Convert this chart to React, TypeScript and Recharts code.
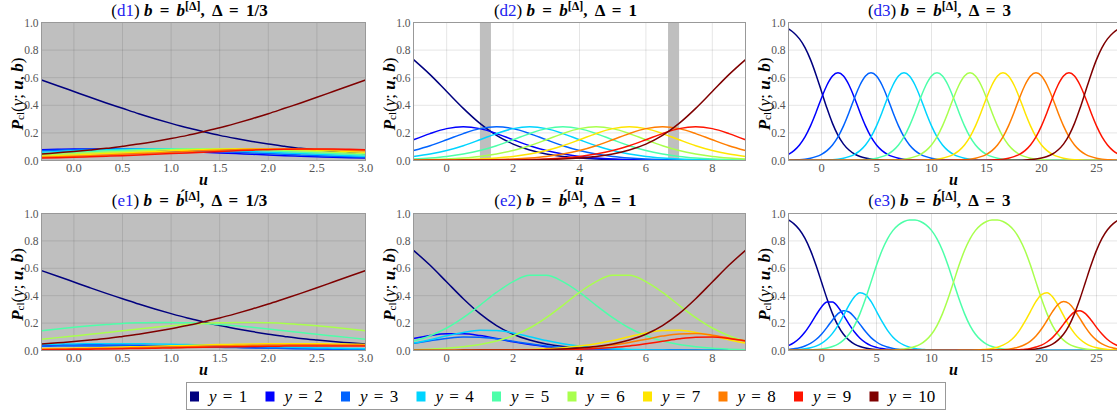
import React from 'react';
import { LineChart, Line, XAxis, YAxis, CartesianGrid, ReferenceArea } from 'recharts';

// ---------- x grids ----------
const U_THIRD = [-0.3333, -0.1667, 0, 0.1667, 0.3333, 0.5, 0.6667, 0.8333, 1, 1.1667, 1.3333, 1.5, 1.6667, 1.8333, 2, 2.1667, 2.3333, 2.5, 2.6667, 2.8333, 3];
const U_ONE = [-1, -0.5, 0, 0.5, 1, 1.5, 2, 2.5, 3, 3.5, 4, 4.5, 5, 5.5, 6, 6.5, 7, 7.5, 8, 8.5, 9];
const U_THREE = [-3, -2.5, -2, -1.5, -1, -0.5, 0, 0.5, 1, 1.5, 2, 2.5, 3, 3.5, 4, 4.5, 5, 5.5, 6, 6.5, 7, 7.5, 8, 8.5, 9, 9.5, 10, 10.5, 11, 11.5, 12, 12.5, 13, 13.5, 14, 14.5, 15, 15.5, 16, 16.5, 17, 17.5, 18, 18.5, 19, 19.5, 20, 20.5, 21, 21.5, 22, 22.5, 23, 23.5, 24, 24.5, 25, 25.5, 26, 26.5, 27];

// ---------- tick labels ----------
const Y_TICKS = [0, 0.2, 0.4, 0.6, 0.8, 1];
const X_TICKS_THIRD = [0, 0.5, 1, 1.5, 2, 2.5, 3];
const X_TICKS_ONE = [0, 2, 4, 6, 8];
const X_TICKS_THREE = [0, 5, 10, 15, 20, 25];

// ---------- categories ----------
const CATEGORIES = ['1', '2', '3', '4', '5', '6', '7', '8', '9', '10'];
const JET = ['#00007f', '#0000ff', '#0063ff', '#00d4ff', '#4dffa9', '#a9ff4d', '#ffe500', '#ff7d00', '#ff1400', '#7f0000'];

// grey shaded u-intervals in (d2)
const D2_BANDS = [[1, 1.333], [6.667, 7]];

// ---------- (d1) ----------
const d1y1 = [0.583, 0.542, 0.500, 0.458, 0.417, 0.378, 0.339, 0.303, 0.269, 0.237, 0.209, 0.182, 0.159, 0.138, 0.119, 0.103, 0.088, 0.076, 0.065, 0.056, 0.047];
const d1y2 = [0.078, 0.081, 0.083, 0.083, 0.083, 0.081, 0.078, 0.075, 0.070, 0.065, 0.060, 0.055, 0.050, 0.045, 0.040, 0.035, 0.031, 0.027, 0.023, 0.020, 0.018];
const d1y3 = [0.070, 0.075, 0.078, 0.081, 0.083, 0.083, 0.083, 0.081, 0.078, 0.075, 0.070, 0.065, 0.060, 0.055, 0.050, 0.045, 0.040, 0.035, 0.031, 0.027, 0.023];
const d1y4 = [0.060, 0.065, 0.070, 0.075, 0.078, 0.081, 0.083, 0.083, 0.083, 0.081, 0.078, 0.075, 0.070, 0.065, 0.060, 0.055, 0.050, 0.045, 0.040, 0.035, 0.031];
const d1y5 = [0.050, 0.055, 0.060, 0.065, 0.070, 0.075, 0.078, 0.081, 0.083, 0.083, 0.083, 0.081, 0.078, 0.075, 0.070, 0.065, 0.060, 0.055, 0.050, 0.045, 0.040];
const d1y6 = [0.040, 0.045, 0.050, 0.055, 0.060, 0.065, 0.070, 0.075, 0.078, 0.081, 0.083, 0.083, 0.083, 0.081, 0.078, 0.075, 0.070, 0.065, 0.060, 0.055, 0.050];
const d1y7 = [0.031, 0.035, 0.040, 0.045, 0.050, 0.055, 0.060, 0.065, 0.070, 0.075, 0.078, 0.081, 0.083, 0.083, 0.083, 0.081, 0.078, 0.075, 0.070, 0.065, 0.060];
const d1y8 = [0.023, 0.027, 0.031, 0.035, 0.040, 0.045, 0.050, 0.055, 0.060, 0.065, 0.070, 0.075, 0.078, 0.081, 0.083, 0.083, 0.083, 0.081, 0.078, 0.075, 0.070];
const d1y9 = [0.018, 0.020, 0.023, 0.027, 0.031, 0.035, 0.040, 0.045, 0.050, 0.055, 0.060, 0.065, 0.070, 0.075, 0.078, 0.081, 0.083, 0.083, 0.083, 0.081, 0.078];
const d1y10 = [0.047, 0.056, 0.065, 0.076, 0.088, 0.103, 0.119, 0.138, 0.159, 0.182, 0.209, 0.237, 0.269, 0.303, 0.339, 0.378, 0.417, 0.458, 0.500, 0.542, 0.583];

// ---------- (d2) ----------
const d2y1 = [0.731, 0.622, 0.500, 0.378, 0.269, 0.182, 0.119, 0.076, 0.047, 0.029, 0.018, 0.011, 0.007, 0.004, 0.002, 0.001, 0.001, 0.001, 0, 0, 0];
const d2y2 = [0.150, 0.195, 0.231, 0.245, 0.231, 0.195, 0.150, 0.107, 0.072, 0.047, 0.029, 0.018, 0.011, 0.007, 0.004, 0.003, 0.002, 0.001, 0.001, 0.001, 0];
const d2y3 = [0.072, 0.107, 0.150, 0.195, 0.231, 0.245, 0.231, 0.195, 0.150, 0.107, 0.072, 0.047, 0.029, 0.018, 0.011, 0.007, 0.004, 0.003, 0.002, 0.001, 0.001];
const d2y4 = [0.029, 0.047, 0.072, 0.107, 0.150, 0.195, 0.231, 0.245, 0.231, 0.195, 0.150, 0.107, 0.072, 0.047, 0.029, 0.018, 0.011, 0.007, 0.004, 0.003, 0.002];
const d2y5 = [0.011, 0.018, 0.029, 0.047, 0.072, 0.107, 0.150, 0.195, 0.231, 0.245, 0.231, 0.195, 0.150, 0.107, 0.072, 0.047, 0.029, 0.018, 0.011, 0.007, 0.004];
const d2y6 = [0.004, 0.007, 0.011, 0.018, 0.029, 0.047, 0.072, 0.107, 0.150, 0.195, 0.231, 0.245, 0.231, 0.195, 0.150, 0.107, 0.072, 0.047, 0.029, 0.018, 0.011];
const d2y7 = [0.002, 0.003, 0.004, 0.007, 0.011, 0.018, 0.029, 0.047, 0.072, 0.107, 0.150, 0.195, 0.231, 0.245, 0.231, 0.195, 0.150, 0.107, 0.072, 0.047, 0.029];
const d2y8 = [0.001, 0.001, 0.002, 0.003, 0.004, 0.007, 0.011, 0.018, 0.029, 0.047, 0.072, 0.107, 0.150, 0.195, 0.231, 0.245, 0.231, 0.195, 0.150, 0.107, 0.072];
const d2y9 = [0, 0.001, 0.001, 0.001, 0.002, 0.003, 0.004, 0.007, 0.011, 0.018, 0.029, 0.047, 0.072, 0.107, 0.150, 0.195, 0.231, 0.245, 0.231, 0.195, 0.150];
const d2y10 = [0, 0, 0, 0.001, 0.001, 0.001, 0.002, 0.004, 0.007, 0.011, 0.018, 0.029, 0.047, 0.076, 0.119, 0.182, 0.269, 0.378, 0.500, 0.622, 0.731];

// ---------- (d3) ----------
const d3y1 = [
  0.953, 0.924, 0.881, 0.818, 0.731, 0.622, 0.500, 0.378, 0.269, 0.182,
  0.119, 0.076, 0.047, 0.029, 0.018, 0.011, 0.007, 0.004, 0.002, 0.001,
  0.001, 0.001, 0, 0, 0, 0, 0, 0, 0, 0,
  0, 0, 0, 0, 0, 0, 0, 0, 0, 0,
  0, 0, 0, 0, 0, 0, 0, 0, 0, 0,
  0, 0, 0, 0, 0, 0, 0, 0, 0, 0,
  0];
const d3y2 = [
  0.045, 0.072, 0.113, 0.171, 0.251, 0.348, 0.453, 0.547, 0.612, 0.635,
  0.612, 0.547, 0.453, 0.348, 0.251, 0.171, 0.113, 0.072, 0.045, 0.028,
  0.017, 0.010, 0.006, 0.004, 0.002, 0.001, 0.001, 0, 0, 0,
  0, 0, 0, 0, 0, 0, 0, 0, 0, 0,
  0, 0, 0, 0, 0, 0, 0, 0, 0, 0,
  0, 0, 0, 0, 0, 0, 0, 0, 0, 0,
  0];
const d3y3 = [
  0.002, 0.004, 0.006, 0.010, 0.017, 0.028, 0.045, 0.072, 0.113, 0.171,
  0.251, 0.348, 0.453, 0.547, 0.612, 0.635, 0.612, 0.547, 0.453, 0.348,
  0.251, 0.171, 0.113, 0.072, 0.045, 0.028, 0.017, 0.010, 0.006, 0.004,
  0.002, 0.001, 0.001, 0, 0, 0, 0, 0, 0, 0,
  0, 0, 0, 0, 0, 0, 0, 0, 0, 0,
  0, 0, 0, 0, 0, 0, 0, 0, 0, 0,
  0];
const d3y4 = [
  0, 0, 0, 0, 0.001, 0.001, 0.002, 0.004, 0.006, 0.010,
  0.017, 0.028, 0.045, 0.072, 0.113, 0.171, 0.251, 0.348, 0.453, 0.547,
  0.612, 0.635, 0.612, 0.547, 0.453, 0.348, 0.251, 0.171, 0.113, 0.072,
  0.045, 0.028, 0.017, 0.010, 0.006, 0.004, 0.002, 0.001, 0.001, 0,
  0, 0, 0, 0, 0, 0, 0, 0, 0, 0,
  0, 0, 0, 0, 0, 0, 0, 0, 0, 0,
  0];
const d3y5 = [
  0, 0, 0, 0, 0, 0, 0, 0, 0, 0,
  0.001, 0.001, 0.002, 0.004, 0.006, 0.010, 0.017, 0.028, 0.045, 0.072,
  0.113, 0.171, 0.251, 0.348, 0.453, 0.547, 0.612, 0.635, 0.612, 0.547,
  0.453, 0.348, 0.251, 0.171, 0.113, 0.072, 0.045, 0.028, 0.017, 0.010,
  0.006, 0.004, 0.002, 0.001, 0.001, 0, 0, 0, 0, 0,
  0, 0, 0, 0, 0, 0, 0, 0, 0, 0,
  0];
const d3y6 = [
  0, 0, 0, 0, 0, 0, 0, 0, 0, 0,
  0, 0, 0, 0, 0, 0, 0.001, 0.001, 0.002, 0.004,
  0.006, 0.010, 0.017, 0.028, 0.045, 0.072, 0.113, 0.171, 0.251, 0.348,
  0.453, 0.547, 0.612, 0.635, 0.612, 0.547, 0.453, 0.348, 0.251, 0.171,
  0.113, 0.072, 0.045, 0.028, 0.017, 0.010, 0.006, 0.004, 0.002, 0.001,
  0.001, 0, 0, 0, 0, 0, 0, 0, 0, 0,
  0];
const d3y7 = [
  0, 0, 0, 0, 0, 0, 0, 0, 0, 0,
  0, 0, 0, 0, 0, 0, 0, 0, 0, 0,
  0, 0, 0.001, 0.001, 0.002, 0.004, 0.006, 0.010, 0.017, 0.028,
  0.045, 0.072, 0.113, 0.171, 0.251, 0.348, 0.453, 0.547, 0.612, 0.635,
  0.612, 0.547, 0.453, 0.348, 0.251, 0.171, 0.113, 0.072, 0.045, 0.028,
  0.017, 0.010, 0.006, 0.004, 0.002, 0.001, 0.001, 0, 0, 0,
  0];
const d3y8 = [
  0, 0, 0, 0, 0, 0, 0, 0, 0, 0,
  0, 0, 0, 0, 0, 0, 0, 0, 0, 0,
  0, 0, 0, 0, 0, 0, 0, 0, 0.001, 0.001,
  0.002, 0.004, 0.006, 0.010, 0.017, 0.028, 0.045, 0.072, 0.113, 0.171,
  0.251, 0.348, 0.453, 0.547, 0.612, 0.635, 0.612, 0.547, 0.453, 0.348,
  0.251, 0.171, 0.113, 0.072, 0.045, 0.028, 0.017, 0.010, 0.006, 0.004,
  0.002];
const d3y9 = [
  0, 0, 0, 0, 0, 0, 0, 0, 0, 0,
  0, 0, 0, 0, 0, 0, 0, 0, 0, 0,
  0, 0, 0, 0, 0, 0, 0, 0, 0, 0,
  0, 0, 0, 0, 0.001, 0.001, 0.002, 0.004, 0.006, 0.010,
  0.017, 0.028, 0.045, 0.072, 0.113, 0.171, 0.251, 0.348, 0.453, 0.547,
  0.612, 0.635, 0.612, 0.547, 0.453, 0.348, 0.251, 0.171, 0.113, 0.072,
  0.045];
const d3y10 = [
  0, 0, 0, 0, 0, 0, 0, 0, 0, 0,
  0, 0, 0, 0, 0, 0, 0, 0, 0, 0,
  0, 0, 0, 0, 0, 0, 0, 0, 0, 0,
  0, 0, 0, 0, 0, 0, 0, 0, 0, 0.001,
  0.001, 0.001, 0.002, 0.004, 0.007, 0.011, 0.018, 0.029, 0.047, 0.076,
  0.119, 0.182, 0.269, 0.378, 0.500, 0.622, 0.731, 0.818, 0.881, 0.924,
  0.953];

// ---------- (e1) ----------
const e1y1 = [0.583, 0.542, 0.500, 0.458, 0.417, 0.378, 0.339, 0.303, 0.269, 0.237, 0.209, 0.182, 0.159, 0.138, 0.119, 0.103, 0.088, 0.076, 0.065, 0.056, 0.047];
const e1y2 = [0.040, 0.041, 0.042, 0.042, 0.041, 0.040, 0.038, 0.036, 0.034, 0.031, 0.029, 0.026, 0.024, 0.021, 0.019, 0.016, 0.014, 0.013, 0.011, 0.009, 0.008];
const e1y3 = [0.031, 0.032, 0.033, 0.033, 0.033, 0.033, 0.032, 0.031, 0.029, 0.027, 0.025, 0.023, 0.021, 0.019, 0.017, 0.015, 0.013, 0.011, 0.010, 0.009, 0.007];
const e1y4 = [0.044, 0.046, 0.048, 0.049, 0.050, 0.050, 0.049, 0.048, 0.046, 0.043, 0.041, 0.037, 0.034, 0.031, 0.028, 0.025, 0.022, 0.019, 0.017, 0.015, 0.013];
const e1y5 = [0.144, 0.157, 0.169, 0.180, 0.189, 0.197, 0.202, 0.205, 0.205, 0.202, 0.197, 0.189, 0.180, 0.169, 0.157, 0.144, 0.131, 0.118, 0.106, 0.094, 0.083];
const e1y6 = [0.083, 0.094, 0.106, 0.118, 0.131, 0.144, 0.157, 0.169, 0.180, 0.189, 0.197, 0.202, 0.205, 0.205, 0.202, 0.197, 0.189, 0.180, 0.169, 0.157, 0.144];
const e1y7 = [0.013, 0.015, 0.017, 0.019, 0.022, 0.025, 0.028, 0.031, 0.034, 0.037, 0.041, 0.043, 0.046, 0.048, 0.049, 0.050, 0.050, 0.049, 0.048, 0.046, 0.044];
const e1y8 = [0.009, 0.011, 0.012, 0.014, 0.016, 0.018, 0.021, 0.023, 0.026, 0.028, 0.031, 0.034, 0.036, 0.038, 0.040, 0.041, 0.042, 0.042, 0.041, 0.040, 0.039];
const e1y9 = [0.006, 0.007, 0.009, 0.010, 0.011, 0.013, 0.015, 0.017, 0.019, 0.021, 0.023, 0.025, 0.027, 0.029, 0.031, 0.032, 0.033, 0.033, 0.033, 0.033, 0.032];
const e1y10 = [0.047, 0.056, 0.065, 0.076, 0.088, 0.103, 0.119, 0.138, 0.159, 0.182, 0.209, 0.237, 0.269, 0.303, 0.339, 0.378, 0.417, 0.458, 0.500, 0.542, 0.583];

// ---------- (e2) ----------
const e2y1 = [0.731, 0.622, 0.500, 0.378, 0.269, 0.182, 0.119, 0.076, 0.047, 0.029, 0.018, 0.011, 0.007, 0.004, 0.002, 0.001, 0.001, 0.001, 0, 0, 0];
const e2y2 = [0.087, 0.109, 0.122, 0.122, 0.109, 0.087, 0.063, 0.043, 0.028, 0.018, 0.011, 0.007, 0.004, 0.003, 0.002, 0.001, 0.001, 0, 0, 0, 0];
const e2y3 = [0.052, 0.071, 0.088, 0.099, 0.097, 0.085, 0.067, 0.049, 0.033, 0.022, 0.014, 0.009, 0.005, 0.003, 0.002, 0.001, 0.001, 0, 0, 0, 0];
const e2y4 = [0.054, 0.079, 0.107, 0.132, 0.147, 0.146, 0.128, 0.101, 0.073, 0.050, 0.033, 0.021, 0.013, 0.008, 0.005, 0.003, 0.002, 0.001, 0.001, 0, 0];
const e2y5 = [0.069, 0.108, 0.164, 0.240, 0.330, 0.424, 0.503, 0.549, 0.549, 0.503, 0.424, 0.330, 0.240, 0.164, 0.108, 0.069, 0.043, 0.027, 0.016, 0.010, 0.006];
const e2y6 = [0.006, 0.010, 0.016, 0.027, 0.043, 0.069, 0.108, 0.164, 0.240, 0.330, 0.424, 0.503, 0.549, 0.549, 0.503, 0.424, 0.330, 0.240, 0.164, 0.108, 0.069];
const e2y7 = [0, 0, 0.001, 0.001, 0.002, 0.003, 0.005, 0.008, 0.013, 0.021, 0.033, 0.050, 0.073, 0.101, 0.128, 0.146, 0.147, 0.132, 0.107, 0.079, 0.054];
const e2y8 = [0, 0, 0, 0.001, 0.001, 0.001, 0.002, 0.004, 0.006, 0.010, 0.017, 0.026, 0.040, 0.059, 0.082, 0.105, 0.121, 0.124, 0.112, 0.091, 0.068];
const e2y9 = [0, 0, 0, 0, 0.001, 0.001, 0.001, 0.002, 0.003, 0.005, 0.009, 0.014, 0.022, 0.033, 0.049, 0.067, 0.085, 0.097, 0.099, 0.088, 0.071];
const e2y10 = [0, 0, 0, 0.001, 0.001, 0.001, 0.002, 0.004, 0.007, 0.011, 0.018, 0.029, 0.047, 0.076, 0.119, 0.182, 0.269, 0.378, 0.500, 0.622, 0.731];

// ---------- (e3) ----------
const e3y1 = [
  0.953, 0.924, 0.881, 0.818, 0.731, 0.622, 0.500, 0.378, 0.269, 0.182,
  0.119, 0.076, 0.047, 0.029, 0.018, 0.011, 0.007, 0.004, 0.002, 0.001,
  0.001, 0.001, 0, 0, 0, 0, 0, 0, 0, 0,
  0, 0, 0, 0, 0, 0, 0, 0, 0, 0,
  0, 0, 0, 0, 0, 0, 0, 0, 0, 0,
  0, 0, 0, 0, 0, 0, 0, 0, 0, 0,
  0];
const e3y2 = [
  0.036, 0.058, 0.090, 0.135, 0.193, 0.258, 0.318, 0.354, 0.354, 0.318,
  0.258, 0.193, 0.135, 0.090, 0.058, 0.036, 0.023, 0.014, 0.009, 0.005,
  0.003, 0.002, 0.001, 0.001, 0, 0, 0, 0, 0, 0,
  0, 0, 0, 0, 0, 0, 0, 0, 0, 0,
  0, 0, 0, 0, 0, 0, 0, 0, 0, 0,
  0, 0, 0, 0, 0, 0, 0, 0, 0, 0,
  0];
const e3y3 = [
  0.008, 0.013, 0.020, 0.033, 0.052, 0.080, 0.119, 0.169, 0.223, 0.269,
  0.291, 0.281, 0.243, 0.191, 0.138, 0.094, 0.062, 0.039, 0.025, 0.015,
  0.009, 0.006, 0.003, 0.002, 0.001, 0.001, 0, 0, 0, 0,
  0, 0, 0, 0, 0, 0, 0, 0, 0, 0,
  0, 0, 0, 0, 0, 0, 0, 0, 0, 0,
  0, 0, 0, 0, 0, 0, 0, 0, 0, 0,
  0];
const e3y4 = [
  0.003, 0.005, 0.008, 0.012, 0.020, 0.032, 0.052, 0.082, 0.125, 0.184,
  0.256, 0.331, 0.392, 0.421, 0.408, 0.358, 0.286, 0.212, 0.147, 0.097,
  0.062, 0.039, 0.024, 0.015, 0.009, 0.006, 0.003, 0.002, 0.001, 0.001,
  0, 0, 0, 0, 0, 0, 0, 0, 0, 0,
  0, 0, 0, 0, 0, 0, 0, 0, 0, 0,
  0, 0, 0, 0, 0, 0, 0, 0, 0, 0,
  0];
const e3y5 = [
  0.001, 0.001, 0.001, 0.002, 0.004, 0.007, 0.011, 0.018, 0.029, 0.047,
  0.076, 0.119, 0.182, 0.269, 0.377, 0.499, 0.622, 0.730, 0.815, 0.877,
  0.917, 0.942, 0.953, 0.953, 0.942, 0.917, 0.877, 0.815, 0.730, 0.622,
  0.499, 0.377, 0.269, 0.182, 0.119, 0.076, 0.047, 0.029, 0.018, 0.011,
  0.007, 0.004, 0.002, 0.001, 0.001, 0.001, 0, 0, 0, 0,
  0, 0, 0, 0, 0, 0, 0, 0, 0, 0,
  0];
const e3y6 = [
  0, 0, 0, 0, 0, 0, 0, 0, 0, 0,
  0, 0, 0, 0, 0, 0.001, 0.001, 0.001, 0.002, 0.004,
  0.007, 0.011, 0.018, 0.029, 0.047, 0.076, 0.119, 0.182, 0.269, 0.377,
  0.499, 0.622, 0.730, 0.815, 0.877, 0.917, 0.942, 0.953, 0.953, 0.942,
  0.917, 0.877, 0.815, 0.730, 0.622, 0.499, 0.377, 0.269, 0.182, 0.119,
  0.076, 0.047, 0.029, 0.018, 0.011, 0.007, 0.004, 0.002, 0.001, 0.001,
  0.001];
const e3y7 = [
  0, 0, 0, 0, 0, 0, 0, 0, 0, 0,
  0, 0, 0, 0, 0, 0, 0, 0, 0, 0,
  0, 0, 0, 0, 0, 0, 0, 0, 0, 0,
  0, 0.001, 0.001, 0.002, 0.003, 0.006, 0.009, 0.015, 0.024, 0.039,
  0.062, 0.097, 0.147, 0.212, 0.286, 0.358, 0.408, 0.421, 0.392, 0.331,
  0.256, 0.184, 0.125, 0.082, 0.052, 0.032, 0.020, 0.012, 0.008, 0.005,
  0.003];
const e3y8 = [
  0, 0, 0, 0, 0, 0, 0, 0, 0, 0,
  0, 0, 0, 0, 0, 0, 0, 0, 0, 0,
  0, 0, 0, 0, 0, 0, 0, 0, 0, 0,
  0, 0, 0, 0, 0, 0.001, 0.001, 0.002, 0.004, 0.006,
  0.010, 0.017, 0.027, 0.044, 0.069, 0.106, 0.157, 0.219, 0.284, 0.336,
  0.358, 0.343, 0.296, 0.232, 0.169, 0.115, 0.076, 0.048, 0.030, 0.019,
  0.011];
const e3y9 = [
  0, 0, 0, 0, 0, 0, 0, 0, 0, 0,
  0, 0, 0, 0, 0, 0, 0, 0, 0, 0,
  0, 0, 0, 0, 0, 0, 0, 0, 0, 0,
  0, 0, 0, 0, 0, 0, 0, 0, 0.001, 0.001,
  0.002, 0.003, 0.006, 0.009, 0.015, 0.025, 0.039, 0.062, 0.094, 0.138,
  0.191, 0.243, 0.281, 0.291, 0.269, 0.223, 0.169, 0.120, 0.080, 0.052,
  0.033];
const e3y10 = [
  0, 0, 0, 0, 0, 0, 0, 0, 0, 0,
  0, 0, 0, 0, 0, 0, 0, 0, 0, 0,
  0, 0, 0, 0, 0, 0, 0, 0, 0, 0,
  0, 0, 0, 0, 0, 0, 0, 0, 0, 0.001,
  0.001, 0.001, 0.002, 0.004, 0.007, 0.011, 0.018, 0.029, 0.047, 0.076,
  0.119, 0.182, 0.269, 0.378, 0.500, 0.622, 0.731, 0.818, 0.881, 0.924,
  0.953];

const FONT = '"Liberation Serif", "Times New Roman", serif';

type PanelProps = {
  L: number; T: number; w: number; h: number;
  u: number[]; series: number[][];
  xDomain: [number, number]; xTicks: number[]; xFmt: (v: number) => string;
  grey: boolean; bands?: number[][];
};

function Panel({ L, T, w, h, u, series, xDomain, xTicks, xFmt, grey, bands = [] }: PanelProps) {
  const data = u.map((uu, i) => {
    const row: Record<string, number> = { u: uu };
    series.forEach((s, k) => { row['y' + CATEGORIES[k]] = s[i]; });
    return row;
  });
  return (
    <div style={{ position: 'absolute', left: L - 45, top: T - 25 }}>
      <LineChart width={w + 55.5} height={h + 55.5} data={data}
        margin={{ top: 25.5, right: 10, bottom: 0, left: 0.5 }}>
        <CartesianGrid stroke="#000" strokeOpacity={0.1} fill={grey ? '#bfbfbf' : '#ffffff'} fillOpacity={1} />
        {bands.map((b, i) => (
          <ReferenceArea key={i} x1={b[0]} x2={b[1]} y1={0} y2={1} fill="#bfbfbf" fillOpacity={1} stroke="none" />
        ))}
        <XAxis type="number" dataKey="u" domain={xDomain} ticks={xTicks} tickFormatter={xFmt}
          allowDataOverflow axisLine={false} tickLine={false} tickSize={0} tickMargin={3} height={30} interval={0}
          tick={{ fill: '#555', fontSize: 12.5, fontFamily: FONT }} />
        <YAxis type="number" domain={[0, 1]} ticks={Y_TICKS} tickFormatter={(v: number) => v.toFixed(1)}
          allowDataOverflow axisLine={false} tickLine={false} tickSize={0} tickMargin={3} width={45} interval={0}
          tick={{ fill: '#555', fontSize: 11.5, fontFamily: FONT }} />
        {series.map((_, k) => (
          <Line key={k} type="monotone" dataKey={'y' + CATEGORIES[k]} stroke={JET[k]} strokeWidth={1.5}
            dot={false} activeDot={false} isAnimationActive={false} />
        ))}
      </LineChart>
    </div>
  );
}

function Title({ cx, y, tag, accent, delta }: { cx: number; y: number; tag: string; accent: boolean; delta: string }) {
  const b = accent ? 'b\u0301' : 'b';
  return (
    <text x={cx} y={y} textAnchor="middle" fontSize={17} fontFamily={FONT} fill="#000">
      <tspan>(</tspan>
      <tspan fill="#2222ee">{tag}</tspan>
      <tspan>{') '}</tspan>
      <tspan fontWeight="bold" fontStyle="italic">b</tspan>
      <tspan fontWeight="bold" wordSpacing={3}>{' = '}</tspan>
      <tspan fontWeight="bold" fontStyle="italic">{b}</tspan>
      <tspan fontWeight="bold" fontSize={12} dy={-5.5}>[Δ]</tspan>
      <tspan fontWeight="bold" dy={5.5} wordSpacing={3}>{', Δ = ' + delta}</tspan>
    </text>
  );
}

function YLabel({ cx, cy }: { cx: number; cy: number }) {
  return (
    <text transform={`translate(${cx},${cy}) rotate(-90)`} textAnchor="middle" dominantBaseline="central"
      fontSize={17} fontFamily={FONT} fill="#000">
      <tspan fontWeight="bold" fontStyle="italic">P</tspan>
      <tspan fontSize={11} dy={3}>cl</tspan>
      <tspan dy={-3}>(</tspan>
      <tspan fontStyle="italic">y</tspan>
      <tspan>{'; '}</tspan>
      <tspan fontWeight="bold" fontStyle="italic">u</tspan>
      <tspan>{', '}</tspan>
      <tspan fontWeight="bold" fontStyle="italic">b</tspan>
      <tspan>)</tspan>
    </text>
  );
}

const PANELS = [
  { L: 41, T: 22, w: 324, h: 138, u: U_THIRD, series: [d1y1, d1y2, d1y3, d1y4, d1y5, d1y6, d1y7, d1y8, d1y9, d1y10], xDomain: [-0.3333, 3] as [number, number], xTicks: X_TICKS_THIRD, xFmt: (v: number) => v.toFixed(1), grey: true, bands: [] as number[][], tag: 'd1', accent: false, delta: '1/3' },
  { L: 413, T: 22, w: 332, h: 138, u: U_ONE, series: [d2y1, d2y2, d2y3, d2y4, d2y5, d2y6, d2y7, d2y8, d2y9, d2y10], xDomain: [-1, 9] as [number, number], xTicks: X_TICKS_ONE, xFmt: (v: number) => String(v), grey: false, bands: D2_BANDS, tag: 'd2', accent: false, delta: '1' },
  { L: 788, T: 22, w: 330, h: 138, u: U_THREE, series: [d3y1, d3y2, d3y3, d3y4, d3y5, d3y6, d3y7, d3y8, d3y9, d3y10], xDomain: [-3, 27] as [number, number], xTicks: X_TICKS_THREE, xFmt: (v: number) => String(v), grey: false, bands: [] as number[][], tag: 'd3', accent: false, delta: '3' },
  { L: 41, T: 213, w: 324, h: 137, u: U_THIRD, series: [e1y1, e1y2, e1y3, e1y4, e1y5, e1y6, e1y7, e1y8, e1y9, e1y10], xDomain: [-0.3333, 3] as [number, number], xTicks: X_TICKS_THIRD, xFmt: (v: number) => v.toFixed(1), grey: true, bands: [] as number[][], tag: 'e1', accent: true, delta: '1/3' },
  { L: 413, T: 213, w: 332, h: 137, u: U_ONE, series: [e2y1, e2y2, e2y3, e2y4, e2y5, e2y6, e2y7, e2y8, e2y9, e2y10], xDomain: [-1, 9] as [number, number], xTicks: X_TICKS_ONE, xFmt: (v: number) => String(v), grey: true, bands: [] as number[][], tag: 'e2', accent: true, delta: '1' },
  { L: 788, T: 213, w: 330, h: 137, u: U_THREE, series: [e3y1, e3y2, e3y3, e3y4, e3y5, e3y6, e3y7, e3y8, e3y9, e3y10], xDomain: [-3, 27] as [number, number], xTicks: X_TICKS_THREE, xFmt: (v: number) => String(v), grey: false, bands: [] as number[][], tag: 'e3', accent: true, delta: '3' },
];

export default function App() {
  return (
    <div style={{ position: 'absolute', left: 0, top: 0, width: 1117, height: 414, overflow: 'hidden', background: '#fff', fontFamily: FONT }}>
      {PANELS.map((p, i) => (
        <Panel key={i} L={p.L} T={p.T} w={p.w} h={p.h} u={p.u} series={p.series} xDomain={p.xDomain}
          xTicks={p.xTicks} xFmt={p.xFmt} grey={p.grey} bands={p.bands} />
      ))}
      <svg width={1117} height={414} style={{ position: 'absolute', left: 0, top: 0, pointerEvents: 'none' }}>
        {PANELS.map((p, i) => {
          const cx = p.L + 0.5 + p.w / 2;
          const row2 = p.T > 100;
          return (
            <g key={i}>
              <rect x={p.L + 0.5} y={p.T + 0.5} width={p.w} height={p.h} fill="none" stroke="#999" strokeWidth={1} />
              <Title cx={cx - 14} y={row2 ? 205.5 : 15.5} tag={p.tag} accent={p.accent} delta={p.delta} />
              <YLabel cx={p.L - 24.5} cy={p.T + p.h / 2 + 3} />
              <text x={cx} y={p.T + p.h + 25} textAnchor="middle" fontSize={16} fontWeight="bold" fontStyle="italic" fontFamily={FONT}>u</text>
            </g>
          );
        })}
        <rect x={186.5} y={382.5} width={759} height={27} fill="#fff" stroke="#999" strokeWidth={1} />
        {CATEGORIES.map((c, i) => (
          <g key={c}>
            <rect x={190 + 75.5 * i} y={391.5} width={9} height={10} fill={JET[i]} />
            <text x={209 + 75.5 * i} y={402} fontSize={17} fontFamily={FONT} wordSpacing={2}>
              <tspan fontStyle="italic">y</tspan>
              <tspan>{' = ' + c}</tspan>
            </text>
          </g>
        ))}
      </svg>
    </div>
  );
}
